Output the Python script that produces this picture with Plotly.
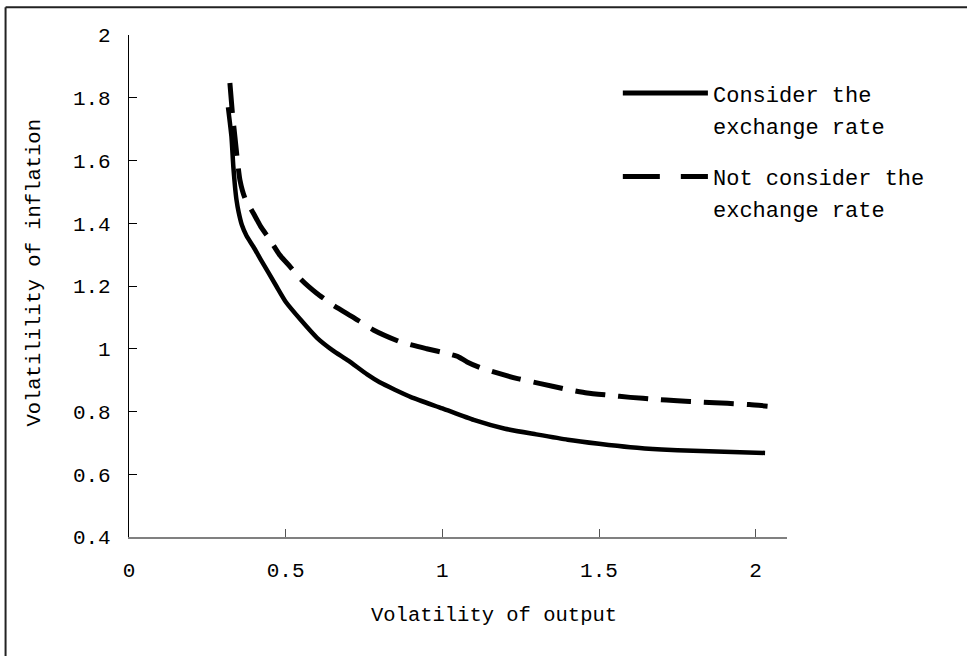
import plotly.graph_objects as go

# ---- data ----
consider_x = [0.316, 0.322, 0.327, 0.333, 0.338, 0.343, 0.350, 0.360, 0.375, 0.397, 0.42,
              0.47, 0.50, 0.55, 0.60, 0.65, 0.70, 0.76, 0.80, 0.90, 1.00, 1.10, 1.20,
              1.30, 1.40, 1.50, 1.60, 1.70, 1.80, 1.90, 2.03]
consider_y = [1.77, 1.72, 1.676, 1.58, 1.52, 1.475, 1.435, 1.395, 1.36, 1.325, 1.285,
              1.20, 1.15, 1.09, 1.035, 0.995, 0.962, 0.918, 0.893, 0.846, 0.81, 0.773,
              0.745, 0.727, 0.71, 0.697, 0.686, 0.679, 0.675, 0.672, 0.668]

notconsider_x = [0.322, 0.33, 0.338, 0.346, 0.354, 0.37, 0.397, 0.42, 0.45, 0.48, 0.514,
                 0.55, 0.599, 0.65, 0.716, 0.78, 0.866, 0.95, 1.015, 1.05, 1.079, 1.12,
                 1.164, 1.24, 1.313, 1.39, 1.462, 1.53, 1.60, 1.68, 1.75, 1.83, 1.91,
                 1.98, 2.038]
notconsider_y = [1.847, 1.75, 1.676, 1.60, 1.538, 1.48, 1.432, 1.39, 1.347, 1.30, 1.262,
                 1.22, 1.177, 1.14, 1.10, 1.06, 1.022, 1.00, 0.985, 0.975, 0.958, 0.94,
                 0.926, 0.905, 0.889, 0.872, 0.859, 0.852, 0.845, 0.839, 0.834, 0.83,
                 0.826, 0.822, 0.817]

x_tickvals = [0, 0.5, 1, 1.5, 2]
x_ticktext = ["0", "0.5", "1", "1.5", "2"]
y_tickvals = [0.4, 0.6, 0.8, 1.0, 1.2, 1.4, 1.6, 1.8, 2.0]
y_ticktext = ["0.4", "0.6", "0.8", "1", "1.2", "1.4", "1.6", "1.8", "2"]

series_names = ["Consider the exchange rate", "Not consider the exchange rate"]
legend_lines = [["Consider the", "exchange rate"], ["Not consider the", "exchange rate"]]
x_title = "Volatility of output"
y_title = "Volatilility of inflation"

FONT = "Liberation Mono"

fig = go.Figure()
fig.add_trace(go.Scatter(x=consider_x, y=consider_y, mode="lines", name=series_names[0],
                         line=dict(color="black", width=4.5, shape="spline", smoothing=0.5)))
fig.add_trace(go.Scatter(x=notconsider_x, y=notconsider_y, mode="lines", name=series_names[1],
                         line=dict(color="black", width=5, dash="30px,13px",
                                   shape="spline", smoothing=0.5)))

fig.update_layout(
    width=967, height=656,
    margin=dict(l=129, r=180, t=35, b=119),
    paper_bgcolor="white", plot_bgcolor="white",
    showlegend=False,
    font=dict(family=FONT, size=21, color="black"),
)
fig.update_xaxes(range=[0, 2.1], tickvals=x_tickvals, ticktext=x_ticktext,
                 showgrid=False, zeroline=False, showline=True, linecolor="#808080",
                 linewidth=1.5, ticks="inside", ticklen=8, tickcolor="#555555",
                 tickwidth=1, ticklabelstandoff=13,
                 tickfont=dict(family=FONT, size=21, color="black"))
fig.update_yaxes(range=[0.4, 2.0], tickvals=y_tickvals, ticktext=y_ticktext,
                 showgrid=False, zeroline=False, showline=True, linecolor="black",
                 linewidth=1.2, ticks="inside", ticklen=8, tickcolor="black",
                 tickwidth=1, ticklabelstandoff=13,
                 tickfont=dict(family=FONT, size=21, color="black"))

# axis titles
fig.add_annotation(text=x_title, xref="paper", yref="paper", x=0.555, y=-0.156,
                   xanchor="center", yanchor="middle", showarrow=False,
                   font=dict(family=FONT, size=20.5, color="black"))
fig.add_annotation(text=y_title, xref="paper", yref="paper", x=-0.1434, y=0.526,
                   xanchor="center", yanchor="middle", showarrow=False, textangle=-90,
                   font=dict(family=FONT, size=20.5, color="black"))

# legend (drawn manually)
leg_x0, leg_x1, leg_tx = 0.7505, 0.8798, 0.884
leg_ys = [0.8843, 0.718]
leg_dash = ["solid", "37px,21px"]
line_gap = 0.0644
for i in range(2):
    fig.add_shape(type="line", xref="paper", yref="paper", x0=leg_x0, x1=leg_x1,
                  y0=leg_ys[i], y1=leg_ys[i], line=dict(color="black", width=5, dash=leg_dash[i]))
    for j, t in enumerate(legend_lines[i]):
        fig.add_annotation(text=t, xref="paper", yref="paper", x=leg_tx,
                           y=leg_ys[i] - 0.006 - j * line_gap,
                           xanchor="left", yanchor="middle", showarrow=False,
                           font=dict(family=FONT, size=22, color="black"))

# outer frame (top and left edges visible)
fig.add_shape(type="line", xref="paper", yref="paper", x0=-0.1876, x1=1.3,
              y0=1.0555, y1=1.0555, line=dict(color="#222222", width=2))
fig.add_shape(type="line", xref="paper", yref="paper", x0=-0.1876, x1=-0.1876,
              y0=1.0555, y1=-0.3, line=dict(color="#222222", width=2))

fig.write_html("out.html", config={"displayModeBar": False},
               post_script="document.body.style.margin='0';document.body.style.overflow='hidden';")
